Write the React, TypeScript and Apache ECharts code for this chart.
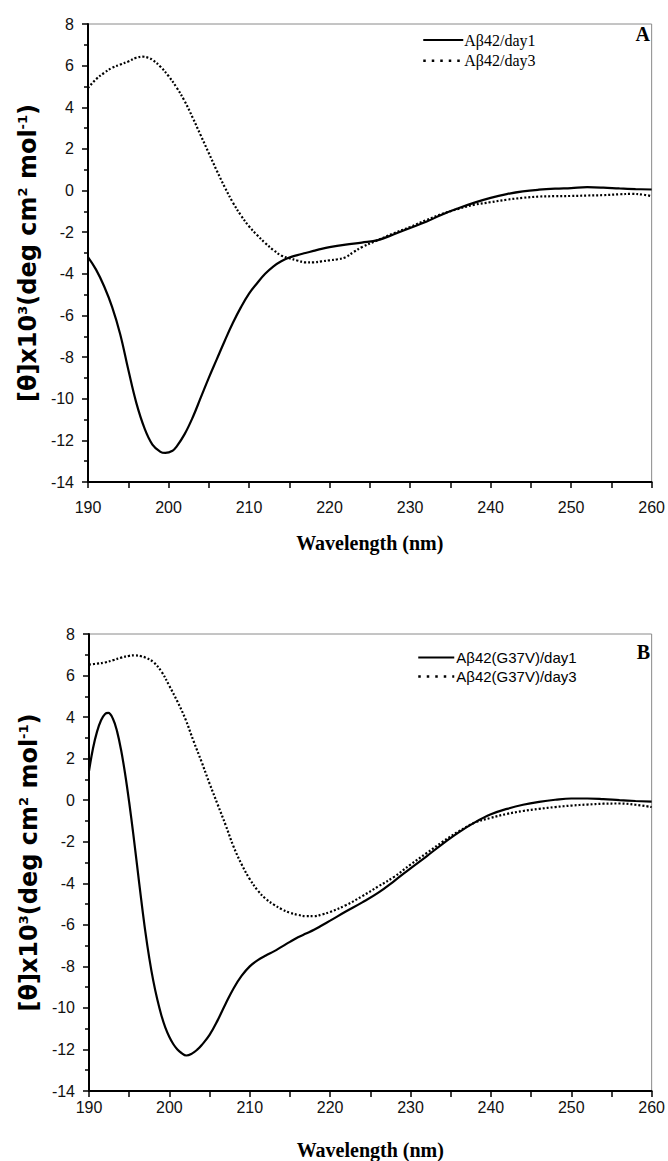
import React, { useEffect, useRef } from "react";
import * as echarts from "echarts";

// ---- Data (wavelength in nm, [θ] x10^3 deg cm^2 mol^-1) ----
const wlA1 = [190, 191, 192, 193, 194, 195, 196, 197, 198, 199, 199.6, 200.5, 201, 202, 203, 204, 205, 206, 207, 208, 209, 210, 211, 212, 213, 214, 215, 216, 217, 218, 219, 220, 222, 224, 226, 228, 230, 232, 234, 236, 238, 240, 242, 244, 246, 248, 250, 252, 254, 256, 258, 260];
const valA1 = [-3.2, -3.8, -4.6, -5.6, -6.9, -8.6, -10.2, -11.4, -12.2, -12.55, -12.6, -12.5, -12.3, -11.7, -10.9, -9.95, -9.0, -8.1, -7.2, -6.35, -5.6, -4.95, -4.45, -4.0, -3.65, -3.4, -3.22, -3.1, -3.0, -2.9, -2.8, -2.72, -2.6, -2.5, -2.38, -2.1, -1.8, -1.5, -1.15, -0.85, -0.58, -0.35, -0.17, -0.04, 0.04, 0.09, 0.12, 0.16, 0.14, 0.1, 0.07, 0.05];

const wlA3 = [190, 191, 192, 193, 194, 195, 196, 196.8, 197.5, 198, 199, 200, 201, 202, 203, 204, 205, 206, 207, 208, 209, 210, 211, 212, 213, 214, 215, 216, 217, 218, 219, 220, 221, 222, 223, 224, 226, 228, 230, 232, 234, 236, 238, 240, 242, 244, 246, 248, 250, 252, 254, 256, 257.5, 259, 260];
const valA3 = [4.93, 5.35, 5.65, 5.9, 6.05, 6.2, 6.38, 6.43, 6.38, 6.28, 5.95, 5.5, 4.95, 4.3, 3.5, 2.65, 1.8, 0.95, 0.15, -0.58, -1.2, -1.72, -2.14, -2.52, -2.85, -3.12, -3.25, -3.36, -3.45, -3.45, -3.4, -3.35, -3.3, -3.2, -2.95, -2.72, -2.38, -2.05, -1.75, -1.42, -1.12, -0.88, -0.68, -0.56, -0.44, -0.35, -0.29, -0.27, -0.26, -0.24, -0.22, -0.18, -0.16, -0.2, -0.27];

const wlB1 = [190, 190.5, 191, 191.5, 192, 192.4, 193, 193.5, 194, 194.5, 195, 195.5, 196, 196.5, 197, 197.5, 198, 198.5, 199, 199.5, 200, 200.5, 201, 201.5, 202.1, 202.8, 203.5, 204, 205, 206, 207, 208, 209, 210, 211, 212, 213, 214, 215, 216, 217, 218, 219, 220, 222, 224, 226, 228, 230, 232, 234, 236, 238, 240, 242, 244, 246, 248, 250, 252, 254, 256, 258, 260];
const valB1 = [1.4, 2.5, 3.3, 3.85, 4.15, 4.2, 3.9, 3.3, 2.4, 1.25, -0.1, -1.6, -3.2, -4.8, -6.3, -7.6, -8.7, -9.6, -10.35, -10.95, -11.4, -11.75, -12.0, -12.17, -12.29, -12.2, -12.0, -11.8, -11.3, -10.6, -9.8, -9.05, -8.45, -8.0, -7.7, -7.48, -7.28, -7.05, -6.82, -6.6, -6.42, -6.24, -6.02, -5.8, -5.35, -4.92, -4.45, -3.88, -3.28, -2.7, -2.1, -1.55, -1.07, -0.68, -0.42, -0.22, -0.08, 0.02, 0.08, 0.08, 0.05, 0.0, -0.04, -0.07];

const wlB3 = [190, 191, 192, 193, 194, 195, 195.7, 196.5, 197, 198, 199, 200, 201, 202, 203, 204, 205, 206, 207, 208, 209, 210, 211, 212, 213, 214, 215, 216, 217, 218, 219, 220, 222, 224, 226, 228, 230, 232, 234, 236, 238, 240, 242, 244, 246, 248, 250, 252, 254, 256, 258, 260];
const valB3 = [6.53, 6.57, 6.63, 6.74, 6.86, 6.95, 6.97, 6.93, 6.87, 6.65, 6.2, 5.5, 4.75, 3.9, 2.85, 1.85, 0.8, -0.2, -1.2, -2.25, -3.1, -3.8, -4.35, -4.75, -5.03, -5.25, -5.42, -5.52, -5.58, -5.58, -5.5, -5.38, -5.05, -4.62, -4.15, -3.68, -3.1, -2.55, -2.0, -1.5, -1.08, -0.85, -0.66, -0.52, -0.42, -0.33, -0.26, -0.21, -0.17, -0.16, -0.22, -0.33];

const namesA = ["Aβ42/day1", "Aβ42/day3"];
const namesB = ["Aβ42(G37V)/day1", "Aβ42(G37V)/day3"];
const panelLabels = ["A", "B"];
const xTicks = { min: 190, max: 260, interval: 10 };
const yTicks = { min: -14, max: 8, interval: 2 };

const pairs = (xs: number[], ys: number[]) => xs.map((x, i) => [x, ys[i]]);

const DOT: number[] = [2, 2];

function xAxisCfg(gridIndex: number, labelMargin: number, nameGap: number) {
  return {
    type: "value",
    gridIndex,
    min: xTicks.min,
    max: xTicks.max,
    interval: xTicks.interval,
    name: "Wavelength (nm)",
    nameLocation: "middle",
    nameGap,
    nameTextStyle: { fontFamily: "Liberation Serif", fontWeight: "bold", fontSize: 20, color: "#000" },
    axisLine: { show: true, onZero: false, lineStyle: { color: "#000", width: 2 } },
    axisTick: { show: true, inside: false, length: 6, lineStyle: { color: "#000", width: 1.5 } },
    minorTick: { show: true, splitNumber: 2, length: 6, lineStyle: { color: "#000", width: 1.5 } },
    axisLabel: { margin: labelMargin, fontFamily: "Liberation Sans", fontSize: 16, color: "#111" },
    splitLine: { show: false },
    minorSplitLine: { show: false },
  };
}

function yAxisCfg(gridIndex: number) {
  return {
    type: "value",
    gridIndex,
    min: yTicks.min,
    max: yTicks.max,
    interval: yTicks.interval,
    name: "[θ]x10{sup|3}(deg cm{sup|2} mol{sup|-1})",
    nameLocation: "middle",
    nameGap: 48,
    nameRotate: 90,
    nameTextStyle: {
      fontFamily: "DejaVu Sans",
      fontWeight: "bold",
      fontSize: 24,
      color: "#000",
      rich: {
        sup: { fontFamily: "DejaVu Sans", fontWeight: "bold", fontSize: 13, verticalAlign: "top", color: "#000" },
      },
    },
    axisLine: { show: true, onZero: false, lineStyle: { color: "#000", width: 2 } },
    axisTick: { show: true, inside: false, length: 6, lineStyle: { color: "#000", width: 1.5 } },
    minorTick: { show: true, splitNumber: 2, length: 4, lineStyle: { color: "#000", width: 1.5 } },
    axisLabel: { margin: 14, fontFamily: "Liberation Sans", fontSize: 16, color: "#111" },
    splitLine: { show: false },
    minorSplitLine: { show: false },
  };
}

function lineSeries(name: string, idx: number, data: number[][], dotted: boolean) {
  return {
    name,
    type: "line",
    xAxisIndex: idx,
    yAxisIndex: idx,
    data,
    symbol: "none",
    showSymbol: false,
    smooth: 0.4,
    lineStyle: { color: "#000", width: 2.2, type: dotted ? DOT : "solid" },
    itemStyle: { color: "#000" },
    emphasis: { disabled: true },
  };
}

export default function App() {
  const ref = useRef<HTMLDivElement>(null);
  useEffect(() => {
    document.body.style.margin = "0";
    if (!ref.current) return;
    const chart = echarts.init(ref.current, null, { renderer: "svg" });
    const gridBase = { left: 88, right: 15, height: 458, show: true, borderColor: "#8a8a8a", borderWidth: 1, backgroundColor: "transparent" };
    const legendBase = {
      orient: "vertical",
      itemHeight: 14,
      selectedMode: false,
      itemStyle: { opacity: 0, borderWidth: 0 },
    };
    chart.setOption({
      animation: false,
      backgroundColor: "#fff",
      grid: [
        { ...gridBase, top: 24 },
        { ...gridBase, left: 89, top: 634 },
      ],
      xAxis: [xAxisCfg(0, 17, 51), xAxisCfg(1, 8, 49)],
      yAxis: [yAxisCfg(0), yAxisCfg(1)],
      legend: [
        {
          ...legendBase,
          left: 417,
          top: 27,
          itemWidth: 40,
          itemGap: 4.7,
          textStyle: { fontFamily: "Liberation Serif", fontSize: 16, color: "#000", lineHeight: 14, padding: [0, 0, 0, -4] },
          data: [
            { name: namesA[0] },
            { name: namesA[1], lineStyle: { type: [2.5, 6], width: 2.5 } },
          ],
        },
        {
          ...legendBase,
          left: 412,
          top: 645,
          itemWidth: 36,
          itemGap: 4,
          textStyle: { fontFamily: "Liberation Sans", fontSize: 15, color: "#000", lineHeight: 14, padding: [0, 0, 0, -3] },
          data: [
            { name: namesB[0] },
            { name: namesB[1], lineStyle: { type: [2.5, 6], width: 2.5 } },
          ],
        },
      ],
      graphic: [
        { type: "text", right: 18, top: 24, style: { text: panelLabels[0], fontFamily: "Liberation Serif", fontWeight: "bold", fontSize: 20, fill: "#000" } },
        { type: "text", right: 18, top: 642, style: { text: panelLabels[1], fontFamily: "Liberation Serif", fontWeight: "bold", fontSize: 20, fill: "#000" } },
      ],
      series: [
        lineSeries(namesA[0], 0, pairs(wlA1, valA1), false),
        lineSeries(namesA[1], 0, pairs(wlA3, valA3), true),
        lineSeries(namesB[0], 1, pairs(wlB1, valB1), false),
        lineSeries(namesB[1], 1, pairs(wlB3, valB3), true),
      ],
    });
    return () => chart.dispose();
  }, []);
  return <div ref={ref} style={{ width: 668, height: 1161 }} />;
}
